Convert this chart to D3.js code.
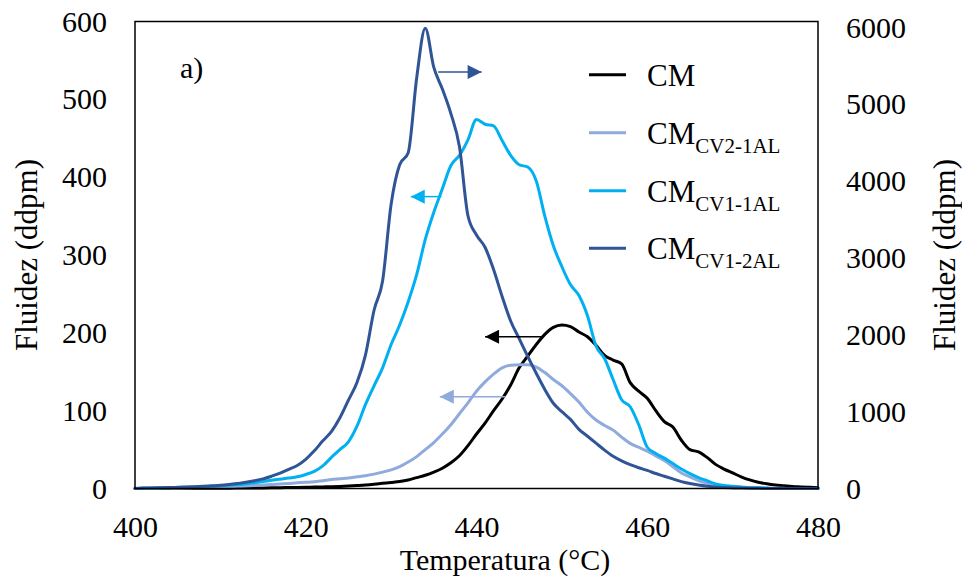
<!DOCTYPE html>
<html>
<head>
<meta charset="utf-8">
<script src="https://cdn.jsdelivr.net/npm/d3@7"></script>
<style>
  html, body { margin: 0; padding: 0; background: #fff; }
  svg { display: block; }
  text { font-family: "Liberation Serif", "Times New Roman", serif; fill: #000; }
</style>
</head>
<body>
<svg id="chart" width="962" height="583"></svg>
<script>
// Temperature grid (°C)
const temperatures = [
  400,401,402,403,404,405,406,407,408,409,
  410,411,412,413,414,415,416,417,418,419,
  420,421,422,423,424,425,426,427,428,429,
  430,431,432,433,434,435,436,437,438,439,
  440,441,442,443,444,445,446,447,448,449,
  450,451,452,453,454,455,456,457,458,459,
  460,461,462,463,464,465,466,467,468,469,
  470,471,472,473,474,475,476,477,478,479,480
];

// Fluidity (ddpm) per sample, left axis
const cm = [
  0,0.05,0.1,0.1,0.15,0.2,0.2,0.25,0.3,0.3,
  0.35,0.4,0.5,0.6,0.7,0.8,0.9,1.0,1.2,1.3,
  1.5,1.8,2.0,2.3,2.7,3.2,3.8,4.5,5.5,6.7,
  7.8,9,11,14,17,21,26,33,42,55,
  70,84,100,115,133,155,170,185,198,207,
  210,208,201,195,184,171,165,160,136,125,
  116,100,86,79,62,50,47,40,31,25,
  20,15,11,8,6,4.5,3.5,2.5,2,1.5,1
];
const cmCv21al = [
  0,0.2,0.3,0.5,0.6,0.8,1.0,1.2,1.5,1.7,
  2,2.3,2.8,3.2,3.8,4.5,5,5.8,6.5,7.3,
  8,8.8,10,11.5,12.5,13.5,15,16.5,18.5,21,
  24,28,34,41,50,59,70,82,96,110,
  125,137,147,155,158.5,159,159,156,149,140,
  132,122,111,98,88,81,75,66,58,53,
  48,42,36,28,20,15,10,6.7,4.5,3,
  2,1.5,1,0.6,0.4,0.3,0.2,0.1,0.1,0,0
];
const cmCv11al = [
  0,0.3,0.5,0.8,1,1.3,1.6,2,2.5,3,
  3.6,4.3,5,6,7.5,9,10.5,12,13.5,15,
  18,22,29,40,50,60,80,108,132,155,
  185,210,240,275,320,355,385,415,428,448,
  474,468,466,447,428,416,413,395,350,312,
  285,262,248,222,183,167,140,114,105,82,
  53,45,39,32,25,19,14,10,6,4,
  3,2,1,1,0.5,0,0,0,0,0,0
];
// Fluidity (ddpm) per sample, right axis
const cmCv12al = [
  0,5,8,10,12,15,18,22,28,35,
  42,52,65,80,100,125,160,200,250,300,
  380,490,620,740,920,1150,1380,1740,2320,2700,
  3700,4215,4370,5350,5990,5480,5200,4880,4450,3550,
  3300,3140,2850,2500,2180,1950,1720,1500,1290,1110,
  1000,900,770,680,590,500,420,360,310,270,
  235,195,160,125,90,65,45,30,20,12,
  8,5,3,2,1,0,0,0,0,0,0
];

// Axis ticks
const xTicks = [400, 420, 440, 460, 480];
const yLeftTicks = [0, 100, 200, 300, 400, 500, 600];
const yRightTicks = [0, 1000, 2000, 3000, 4000, 5000, 6000];

// Series names and subscripts (legend text), colours, axis side
const seriesNames = ["CM", "CM", "CM", "CM"];
const seriesSubs = ["", "CV2-1AL", "CV1-1AL", "CV1-2AL"];
const seriesColors = ["#000000", "#8FAADC", "#00B0F0", "#2F5597"];
const seriesAxis = ["left", "left", "left", "right"];
const seriesValues = [cm, cmCv21al, cmCv11al, cmCv12al];

// Direction arrows: [series index, from T, to T, value on series axis]
const arrowSeries = [0, 1, 2, 3];
const arrowFrom = [447.8, 443.4, 435.9, 435.5];
const arrowTo   = [441.0, 435.7, 432.3, 440.6];
const arrowAt   = [195, 118, 375, 5420];

const svg = d3.select("#chart");
const plot = { left: 135, right: 818, top: 21.5, bottom: 488.5 };
const fontSize = 30;

const x = d3.scaleLinear().domain([400, 480]).range([plot.left, plot.right]);
const yL = d3.scaleLinear().domain([0, 600]).range([plot.bottom, plot.top]);
const yR = d3.scaleLinear().domain([0, 6000]).range([plot.bottom, 27.5]);

// Axes (labels only, no tick marks)
const axisStyle = g => {
  g.select(".domain").remove();
  g.selectAll("line").remove();
  g.selectAll("text")
    .style("font-family", '"Liberation Serif", "Times New Roman", serif')
    .style("font-size", fontSize + "px")
    .attr("fill", "#000");
};

svg.append("g")
  .attr("transform", `translate(0,${plot.bottom})`)
  .call(d3.axisBottom(x).tickValues(xTicks).tickSize(0).tickPadding(27).tickFormat(d3.format("d")))
  .call(axisStyle);

svg.append("g")
  .attr("transform", `translate(${plot.left},0)`)
  .call(d3.axisLeft(yL).tickValues(yLeftTicks).tickSize(0).tickPadding(28).tickFormat(d3.format("d")))
  .call(axisStyle);

svg.append("g")
  .attr("transform", `translate(${plot.right},0)`)
  .call(d3.axisRight(yR).tickValues(yRightTicks).tickSize(0).tickPadding(28).tickFormat(d3.format("d")))
  .call(axisStyle);

// Series lines
const lineFor = yScale => d3.line()
  .x((d, i) => x(temperatures[i]))
  .y(d => yScale(d))
  .curve(d3.curveMonotoneX);

const drawOrder = [0, 1, 2, 3];
drawOrder.forEach(k => {
  const ys = seriesAxis[k] === "left" ? yL : yR;
  svg.append("path")
    .datum(seriesValues[k])
    .attr("fill", "none")
    .attr("stroke", seriesColors[k])
    .attr("stroke-width", 3)
    .attr("stroke-linejoin", "round")
    .attr("stroke-linecap", "round")
    .attr("d", lineFor(ys));
});

// Frame around plot area
svg.append("rect")
  .attr("x", plot.left)
  .attr("y", plot.top)
  .attr("width", plot.right - plot.left)
  .attr("height", plot.bottom - plot.top)
  .attr("fill", "none")
  .attr("stroke", "#000")
  .attr("stroke-width", 1.5);

// Arrows pointing to the axis each curve is read on
const defs = svg.append("defs");
arrowSeries.forEach((k, i) => {
  defs.append("marker")
    .attr("id", "arrowhead" + i)
    .attr("viewBox", "0 0 10 10")
    .attr("refX", 10).attr("refY", 5)
    .attr("markerUnits", "userSpaceOnUse")
    .attr("markerWidth", 15).attr("markerHeight", 14)
    .attr("orient", "auto")
    .append("path")
    .attr("d", "M0,0 L10,5 L0,10 Z")
    .attr("fill", seriesColors[k]);
  const ys = seriesAxis[k] === "left" ? yL : yR;
  svg.append("line")
    .attr("x1", x(arrowFrom[i]))
    .attr("x2", x(arrowTo[i]))
    .attr("y1", ys(arrowAt[i]))
    .attr("y2", ys(arrowAt[i]))
    .attr("stroke", seriesColors[k])
    .attr("stroke-width", 1.5)
    .attr("marker-end", `url(#arrowhead${i})`);
});

// Panel label
svg.append("text")
  .attr("x", 180).attr("y", 78)
  .style("font-size", fontSize + "px")
  .text("a)");

// Legend
const legend = svg.append("g").attr("transform", "translate(589,0)");
const legendRows = [74.7, 132.7, 190.7, 248.3];
seriesNames.forEach((name, k) => {
  const row = legend.append("g").attr("transform", `translate(0,${legendRows[k]})`);
  row.append("line")
    .attr("x1", 0).attr("x2", 37)
    .attr("stroke", seriesColors[k])
    .attr("stroke-width", 3);
  const t = row.append("text")
    .attr("x", 58).attr("y", 11)
    .style("font-size", "31px")
    .text(name);
  if (seriesSubs[k]) {
    t.append("tspan")
      .attr("dy", 9)
      .style("font-size", "21px")
      .text(seriesSubs[k]);
  }
});

// Axis titles
svg.append("text")
  .attr("x", 505).attr("y", 570)
  .attr("text-anchor", "middle")
  .style("font-size", fontSize + "px")
  .text("Temperatura (°C)");

svg.append("text")
  .attr("transform", "translate(37,255) rotate(-90)")
  .attr("text-anchor", "middle")
  .style("font-size", "31px")
  .text("Fluidez (ddpm)");

svg.append("text")
  .attr("transform", "translate(955,255) rotate(-90)")
  .attr("text-anchor", "middle")
  .style("font-size", "31px")
  .text("Fluidez (ddpm)");
</script>
</body>
</html>
